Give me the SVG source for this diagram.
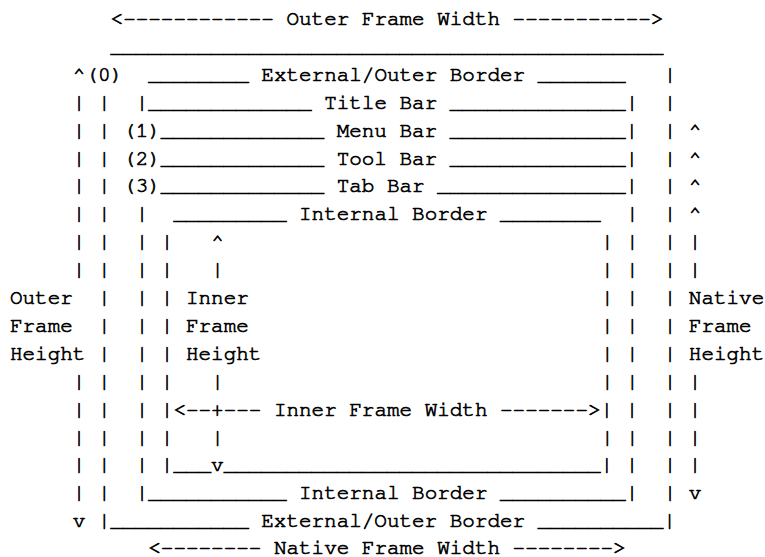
<svg xmlns="http://www.w3.org/2000/svg" width="765" height="557" viewBox="0 0 765 557">
<style>
  .t { font-family: "Nimbus Mono PS", "Nimbus Mono L", "FreeMono", "Courier New", "Liberation Mono", monospace; font-size: 20.95px; fill: #000; stroke: #000; stroke-width: 0.7px; }
</style>
<rect x="0" y="0" width="765" height="557" fill="#fff"/>
<g id="ascii-diagram" class="t">
<g id="row0"><text x="110.58" y="25">&lt;------------ Outer Frame Width -----------&gt;</text></g>
<g id="row1"><text x="110.58" y="52.9">____________________________________________</text></g>
<g id="row2"><text x="72.86" y="80.8">^(0)</text><text x="148.29" y="80.8">________ External/Outer Border _______</text><text x="663.74" y="80.8">|</text></g>
<g id="row3"><text x="72.86" y="108.7">| |</text><text x="135.72" y="108.7">|_____________ Title Bar ______________|</text><text x="663.74" y="108.7">|</text></g>
<g id="row4"><text x="72.86" y="136.6">| | (1)_____________ Menu Bar ______________|</text><text x="663.74" y="136.6">| ^</text></g>
<g id="row5"><text x="72.86" y="164.5">| | (2)_____________ Tool Bar ______________|</text><text x="663.74" y="164.5">| ^</text></g>
<g id="row6"><text x="72.86" y="192.4">| | (3)_____________ Tab Bar _______________|</text><text x="663.74" y="192.4">| ^</text></g>
<g id="row7"><text x="72.86" y="220.3">| |</text><text x="135.72" y="220.3">|</text><text x="173.44" y="220.3">_________ Internal Border ________</text><text x="626.03" y="220.3">|</text><text x="663.74" y="220.3">| ^</text></g>
<g id="row8"><text x="72.86" y="248.2">| |</text><text x="135.72" y="248.2">| |</text><text x="211.15" y="248.2">^</text><text x="600.88" y="248.2">| |</text><text x="663.74" y="248.2">| |</text></g>
<g id="row9"><text x="72.86" y="276.1">| |</text><text x="135.72" y="276.1">| |</text><text x="211.15" y="276.1">|</text><text x="600.88" y="276.1">| |</text><text x="663.74" y="276.1">| |</text></g>
<g id="row10"><text x="10" y="304">Outer</text><text x="98" y="304">|</text><text x="135.72" y="304">| | Inner</text><text x="600.88" y="304">| |</text><text x="663.74" y="304">| Native</text></g>
<g id="row11"><text x="10" y="331.9">Frame</text><text x="98" y="331.9">|</text><text x="135.72" y="331.9">| | Frame</text><text x="600.88" y="331.9">| |</text><text x="663.74" y="331.9">| Frame</text></g>
<g id="row12"><text x="10" y="359.8">Height |</text><text x="135.72" y="359.8">| | Height</text><text x="600.88" y="359.8">| |</text><text x="663.74" y="359.8">| Height</text></g>
<g id="row13"><text x="72.86" y="387.7">| |</text><text x="135.72" y="387.7">| |</text><text x="211.15" y="387.7">|</text><text x="600.88" y="387.7">| |</text><text x="663.74" y="387.7">| |</text></g>
<g id="row14"><text x="72.86" y="415.6">| |</text><text x="135.72" y="415.6">| |&lt;--+--- Inner Frame Width -------&gt;| |</text><text x="663.74" y="415.6">| |</text></g>
<g id="row15"><text x="72.86" y="443.5">| |</text><text x="135.72" y="443.5">| |</text><text x="211.15" y="443.5">|</text><text x="600.88" y="443.5">| |</text><text x="663.74" y="443.5">| |</text></g>
<g id="row16"><text x="72.86" y="471.4">| |</text><text x="135.72" y="471.4">| |___v______________________________| |</text><text x="663.74" y="471.4">| |</text></g>
<g id="row17"><text x="72.86" y="499.3">| |</text><text x="135.72" y="499.3">|___________ Internal Border __________|</text><text x="663.74" y="499.3">| v</text></g>
<g id="row18"><text x="72.86" y="527.2">v |___________ External/Outer Border __________|</text></g>
<g id="row19"><text x="148.29" y="553.5">&lt;-------- Native Frame Width --------&gt;</text></g>
</g>
</svg>
